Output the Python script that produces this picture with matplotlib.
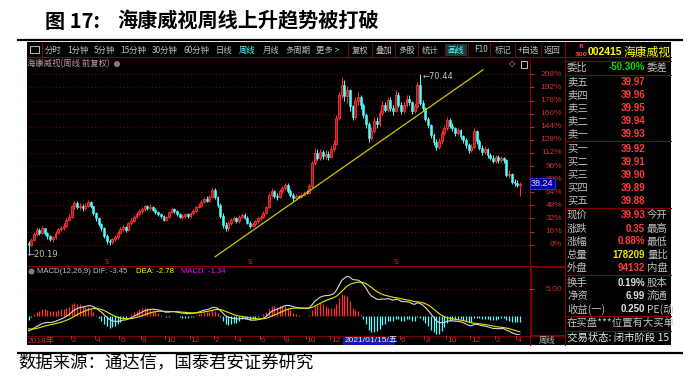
import numpy as np
import pandas as pd
import matplotlib
matplotlib.use("Agg")
import matplotlib.pyplot as plt
from matplotlib.patches import Rectangle, Circle
from matplotlib.transforms import blended_transform_factory

CJK = "Noto Sans CJK SC"
LAT = ["Liberation Sans", "Noto Sans CJK SC"]

# ---------------- data (weekly, forward-adjusted) ----------------
start_week = "2018-10-12"
opens = [
    23.4, 22.8, 24.3, 25.8, 26.9, 26.2, 27.4, 26.0, 25.2, 24.4,
    25.0, 26.2, 27.2, 27.6, 28.2, 29.8, 30.6, 33.6, 34.4, 33.4,
    33.8, 33.0, 33.8, 34.8, 33.6, 31.6, 30.2, 28.6, 27.4, 25.4,
    23.8, 23.6, 24.4, 25.0, 26.2, 27.2, 27.8, 27.0, 28.8, 29.6,
    30.6, 31.4, 32.2, 32.8, 33.6, 33.0, 33.4, 32.6, 32.0, 31.4,
    30.8, 29.8, 30.6, 32.0, 32.8, 32.2, 31.4, 30.6, 30.8, 31.4,
    30.8, 31.6, 32.4, 33.4, 33.8, 34.8, 35.6, 35.2, 36.2, 38.2,
    36.2, 34.0, 31.0, 28.4, 27.4, 28.8, 29.8, 30.2, 29.4, 30.6,
    31.2, 30.4, 29.0, 28.2, 28.6, 29.4, 30.2, 30.6, 31.8, 33.4,
    36.8, 37.8, 36.6, 36.2, 37.8, 38.6, 39.6, 38.0, 36.8, 35.8,
    36.4, 36.2, 36.8, 37.4, 37.2, 39.2, 45.6, 48.6, 47.2, 48.8,
    47.6, 48.2, 47.4, 49.6, 51.0, 58.2, 64.6, 67.6, 64.4, 66.0,
    61.6, 58.4, 63.0, 64.2, 61.8, 59.0, 56.6, 52.6, 54.6, 57.4,
    56.6, 59.6, 62.0, 60.6, 63.2, 61.0, 60.2, 64.8, 62.0, 60.2,
    61.8, 63.6, 62.6, 60.2, 61.6, 67.4, 62.4, 61.0, 58.0, 56.2,
    53.4, 51.6, 50.2, 51.8, 54.2, 55.6, 57.6, 56.0, 55.4, 54.0,
    54.8, 53.2, 52.0, 50.6, 49.4, 50.2, 54.6, 51.8, 50.0, 48.8,
    49.6, 48.0, 47.2, 46.2, 47.4, 46.6, 47.0, 46.4, 42.2, 42.6,
    40.4, 40.2, 39.6]
closes = [
    22.8, 24.3, 25.8, 26.9, 26.2, 27.4, 26.0, 25.2, 24.4, 25.0,
    26.2, 27.2, 27.6, 28.2, 29.8, 30.6, 33.6, 34.4, 33.4, 33.8,
    33.0, 33.8, 34.8, 33.6, 31.6, 30.2, 28.6, 27.4, 25.4, 23.8,
    23.6, 24.4, 25.0, 26.2, 27.2, 27.8, 27.0, 28.8, 29.6, 30.6,
    31.4, 32.2, 32.8, 33.6, 33.0, 33.4, 32.6, 32.0, 31.4, 30.8,
    29.8, 30.6, 32.0, 32.8, 32.2, 31.4, 30.6, 30.8, 31.4, 30.8,
    31.6, 32.4, 33.4, 33.8, 34.8, 35.6, 35.2, 36.2, 38.2, 36.2,
    34.0, 31.0, 28.4, 27.4, 28.8, 29.8, 30.2, 29.4, 30.6, 31.2,
    30.4, 29.0, 28.2, 28.6, 29.4, 30.2, 30.6, 31.8, 33.4, 36.8,
    37.8, 36.6, 36.2, 37.8, 38.6, 39.6, 38.0, 36.8, 35.8, 36.4,
    36.2, 36.8, 37.4, 37.2, 39.2, 45.6, 48.6, 47.2, 48.8, 47.6,
    48.2, 47.4, 49.6, 51.0, 58.2, 64.6, 67.6, 64.4, 66.0, 61.6,
    58.4, 63.0, 64.2, 61.8, 59.0, 56.6, 52.6, 54.6, 57.4, 56.6,
    59.6, 62.0, 60.6, 63.2, 61.0, 60.2, 64.8, 62.0, 60.2, 61.8,
    63.6, 62.6, 60.2, 61.6, 67.4, 62.4, 61.0, 58.0, 56.2, 53.4,
    51.6, 50.2, 51.8, 54.2, 55.6, 57.6, 56.0, 55.4, 54.0, 54.8,
    53.2, 52.0, 50.6, 49.4, 50.2, 54.6, 51.8, 50.0, 48.8, 49.6,
    48.0, 47.2, 46.2, 47.4, 46.6, 47.0, 46.4, 42.2, 42.6, 40.4,
    40.2, 39.6, 39.93]
highs = [
    24.0, 24.8, 26.4, 27.8, 27.4, 28.0, 27.6, 26.4, 25.6, 25.4,
    26.6, 27.6, 28.2, 28.8, 30.2, 31.4, 34.0, 35.2, 35.0, 34.6,
    34.2, 34.4, 35.4, 35.2, 33.8, 32.0, 30.6, 29.0, 27.8, 25.8,
    24.6, 24.8, 25.6, 26.6, 27.8, 28.4, 28.2, 29.2, 30.4, 31.2,
    32.0, 32.8, 33.4, 34.0, 34.0, 34.2, 33.8, 33.0, 32.4, 31.8,
    31.2, 31.0, 32.4, 33.4, 33.2, 32.6, 31.8, 31.4, 31.8, 31.8,
    32.0, 32.8, 33.8, 34.4, 35.4, 36.2, 36.4, 36.8, 38.6, 38.8,
    36.6, 34.4, 31.6, 29.2, 29.4, 30.4, 30.8, 30.6, 31.2, 31.8,
    31.6, 30.8, 29.4, 29.2, 29.8, 30.6, 31.2, 32.2, 33.8, 37.4,
    38.6, 38.2, 37.2, 38.4, 39.4, 40.2, 40.0, 38.4, 37.2, 37.0,
    36.8, 37.4, 38.0, 38.2, 39.8, 46.2, 49.8, 49.6, 49.6, 49.4,
    49.2, 49.0, 50.4, 52.0, 59.0, 65.6, 69.6, 68.8, 67.2, 66.4,
    62.0, 64.0, 65.4, 64.6, 62.4, 59.6, 57.2, 55.8, 58.4, 58.6,
    60.6, 63.0, 62.8, 64.2, 64.0, 62.0, 66.2, 65.4, 62.6, 62.6,
    64.6, 64.6, 63.0, 62.4, 68.4, 70.44, 63.4, 61.4, 58.6, 56.6,
    54.2, 52.4, 52.6, 55.0, 56.4, 58.6, 58.2, 56.8, 55.8, 55.6,
    55.2, 53.6, 52.6, 51.2, 51.0, 55.4, 55.0, 52.4, 50.6, 50.4,
    50.0, 48.6, 47.8, 48.0, 47.8, 47.6, 47.4, 46.8, 43.6, 43.0,
    41.2, 40.8, 40.4]
lows = [
    20.19, 22.4, 24.0, 25.4, 25.6, 25.8, 25.6, 24.6, 23.8, 23.6,
    24.6, 25.8, 26.6, 27.0, 27.8, 29.4, 30.2, 32.8, 32.8, 32.6,
    32.4, 32.6, 33.4, 33.0, 31.2, 29.6, 28.0, 26.8, 24.8, 23.2,
    22.8, 23.0, 24.0, 24.6, 25.8, 26.8, 26.4, 26.8, 28.4, 29.2,
    30.2, 31.0, 31.8, 32.4, 32.6, 32.6, 32.2, 31.4, 30.8, 30.2,
    29.4, 29.4, 30.2, 31.6, 31.8, 31.0, 30.2, 30.0, 30.4, 30.4,
    30.4, 31.2, 32.0, 33.0, 33.4, 34.4, 34.8, 34.8, 35.8, 35.6,
    33.4, 30.4, 27.6, 26.6, 26.8, 28.4, 29.4, 28.8, 29.0, 30.2,
    30.0, 28.6, 27.6, 27.8, 28.2, 29.0, 29.8, 30.2, 31.4, 33.0,
    36.2, 36.0, 35.4, 35.8, 37.2, 38.2, 37.4, 36.2, 35.2, 35.4,
    35.8, 36.0, 36.4, 37.0, 37.4, 38.8, 45.0, 46.4, 46.6, 46.8,
    46.8, 46.6, 47.0, 49.0, 50.6, 57.6, 63.8, 63.0, 62.4, 60.2,
    57.6, 58.0, 62.0, 60.8, 58.2, 55.4, 51.6, 52.0, 54.0, 55.6,
    56.0, 59.0, 59.8, 60.0, 60.2, 59.0, 59.8, 61.2, 59.4, 59.6,
    61.2, 61.8, 59.4, 59.6, 61.0, 61.8, 60.2, 57.4, 55.4, 52.6,
    50.8, 49.4, 49.6, 51.4, 53.6, 55.0, 55.4, 54.6, 53.2, 53.4,
    52.4, 51.2, 49.8, 48.6, 48.8, 49.8, 51.0, 49.2, 48.0, 48.2,
    47.2, 46.4, 45.6, 45.8, 45.8, 46.0, 45.6, 41.8, 41.4, 39.8,
    39.4, 39.0, 36.6]

base_price = 22.87                      # 0% level of the right axis
pct_levels = [0, 16, 32, 48, 64, 80, 96, 112, 128, 144, 160, 176, 192, 208]
trend_pts_x = [69.1, 168.3]            # hand-drawn trend line (week index)
trend_pts_y = [19.5, 71.7]             # trend line (price)
exright_weeks = [29, 82, 136]
cursor_label = "2021/01/15/五"
cursor_week = 118
price_box_value, price_box_text = 39.93, "38.24"
macd_init = dict(ema12=25.0, ema26=27.9, dea=-2.4)
macd_tick = 5.00

N = len(closes)
dates = pd.date_range(start_week, periods=N, freq="W-FRI")
x = np.arange(N)
o = np.array(opens); c = np.array(closes)
hi = np.array(highs); lo = np.array(lows)

# MACD (12,26,9) as computed by the terminal
def macd_calc(vals):
    e12, e26, d_ = macd_init["ema12"], macd_init["ema26"], macd_init["dea"]
    difs, deas = [], []
    for v in vals:
        e12 = (2 * v + 11 * e12) / 13
        e26 = (2 * v + 25 * e26) / 27
        d = e12 - e26
        d_ = (2 * d + 8 * d_) / 10
        difs.append(d); deas.append(d_)
    difs = np.array(difs); deas = np.array(deas)
    return difs, deas, 2 * (difs - deas)
dif, dea, hist = macd_calc(c)

# ---------------- figure ----------------
W, H = 699, 379
fig = plt.figure(figsize=(W / 100, H / 100), dpi=100)
fig.patch.set_facecolor("white")

def px_axes(x0, y0, x1, y1):
    return fig.add_axes([x0 / W, 1 - y1 / H, (x1 - x0) / W, (y1 - y0) / H])

bg = px_axes(0, 0, W, H)
bg.set_xlim(0, W); bg.set_ylim(H, 0); bg.axis("off")

DR = "#800000"
GREY = "#c0c0c0"
RED = "#ff3c3c"
CYAN = "#54fcfc"
YEL = "#ffff00"
UPRED = "#ff3232"

bg.add_patch(Rectangle((27, 42), 644, 303, fc="black", ec="none"))
bg.plot([17, 683], [39.5, 39.5], color="black", lw=1.6, solid_capstyle="butt")
bg.plot([17, 683], [352.5, 352.5], color="black", lw=1.6, solid_capstyle="butt")

bg.text(45, 21, "图 17:", fontsize=14.5, fontweight="bold", family=CJK, va="center", ha="left")
bg.text(117, 21, "海康威视周线上升趋势被打破", fontsize=14.5, fontweight="bold", family=CJK,
        va="center", ha="left")
bg.text(18, 362, "数据来源：通达信，国泰君安证券研究", fontsize=12.5, family=CJK, va="center", ha="left")

# toolbar
bg.plot([27, 671], [57, 57], color=DR, lw=0.8)
for sx in [42, 348, 372, 395, 418, 445, 468, 490, 515, 541, 565]:
    bg.plot([sx, sx], [43, 56], color=DR, lw=0.8)
bg.add_patch(Rectangle((446, 43.5), 21, 12.5, fc="#1c3a3a", ec="none"))
bg.add_patch(Rectangle((30, 46), 9, 7, fc="none", ec=GREY, lw=0.7))
tool_items = [("分时", 45, GREY), ("1分钟", 67, GREY), ("5分钟", 94, GREY), ("15分钟", 120, GREY),
              ("30分钟", 152, GREY), ("60分钟", 183, GREY), ("日线", 216, GREY), ("周线", 239, CYAN),
              ("月线", 263, GREY), ("多周期", 285, GREY), ("更多 >", 316, GREY), ("复权", 352, GREY),
              ("叠加", 376, GREY), ("多股", 398, GREY), ("统计", 422, GREY), ("画线", 447, CYAN),
              ("F10", 474, GREY), ("标记", 495, GREY), ("+自选", 518, GREY), ("返回", 544, GREY)]
for t, tx, col in tool_items:
    bg.text(tx, 50, t, fontsize=6, family=CJK, color=col, va="center", ha="left")

bg.text(27, 64, "海康威视(周线 前复权)", fontsize=6, family=CJK, color="#a8a8a8", va="center", ha="left")
bg.add_patch(Circle((117, 64), 3, fc="#808080", ec="none"))
bg.text(512, 64, "◇", fontsize=6, color=GREY, va="center", ha="center", family="DejaVu Sans")
bg.add_patch(Rectangle((521, 60.5), 6, 7, fc="none", ec=GREY, lw=0.7))

# axis column + panel frames
bg.plot([530, 530], [57, 345], color=DR, lw=0.8)
bg.plot([27, 565], [265.5, 265.5], color=DR, lw=0.8)
bg.plot([27, 565], [335.5, 335.5], color=DR, lw=0.8)
bg.add_patch(Rectangle((530.5, 266.5), 34, 68, fc="none", ec=DR, lw=0.8))
bg.plot([565, 565], [42, 345], color=DR, lw=0.8)
for yy in [61, 75, 141, 208, 274.5, 315.5, 330.5]:
    bg.plot([565, 671], [yy, yy], color=DR, lw=0.8)

# right quote panel
bg.text(581, 46, "R", fontsize=4.5, color=RED, family="DejaVu Sans", fontweight="bold", va="center", ha="center")
bg.text(581, 55, "300", fontsize=4.5, color=RED, family="DejaVu Sans", fontweight="bold", va="center", ha="center")
bg.text(588, 52, "002415", fontsize=7.5, color=YEL, family="Liberation Sans", fontweight="bold", va="center", ha="left")
bg.text(624, 52, "海康威视", fontsize=8.5, color=YEL, family=CJK, va="center", ha="left")

def row(y, label, val, vcol, right=None):
    bg.text(567, y, label, fontsize=7.5, family=CJK, color=GREY, va="center", ha="left")
    if val:
        bg.text(645, y, val, fontsize=7, family="Liberation Sans", fontweight="bold", color=vcol,
                va="center", ha="right")
    if right:
        bg.text(647, y, right, fontsize=7.5, family=CJK, color=GREY, va="center", ha="left")

row(67.5, "委比", "-50.30%", "#00e000", "委差")
sell = ["39.97", "39.96", "39.95", "39.94", "39.93"]
for k, (lab, v) in enumerate(zip(["卖五", "卖四", "卖三", "卖二", "卖一"], sell)):
    row(82 + 13.1 * k, lab, v, RED)
buy = ["39.92", "39.91", "39.90", "39.89", "39.88"]
for k, (lab, v) in enumerate(zip(["买一", "买二", "买三", "买四", "买五"], buy)):
    row(149 + 13.1 * k, lab, v, RED)
row(215, "现价", "39.93", RED, "今开")
row(228.5, "涨跌", "0.35", RED, "最高")
row(241.5, "涨幅", "0.88%", RED, "最低")
row(255, "总量", "178209", "#e6e600", "量比")
row(268, "外盘", "94132", RED, "内盘")
row(283, "换手", "0.19%", "#e0e0e0", "股本")
row(296, "净资", "6.99", "#e0e0e0", "流通")
row(309, "收益(一)", "0.250", "#e0e0e0", "PE(动")
bg.text(567, 323, "在买盘***位置有大买单", fontsize=7.5, family=CJK, color=GREY, va="center", ha="left")
bg.text(567, 337.5, "交易状态: 闭市阶段 15", fontsize=7.5, family=CJK, color="#e8e8e8", va="center", ha="left")

# MACD title
bg.add_patch(Circle((31.5, 271.5), 3, fc="#808080", ec="none"))
bg.text(37, 271.5, "MACD(12,26,9) DIF: -3.45", fontsize=5.6, family="Liberation Sans", color=GREY, va="center")
bg.text(136, 271.5, "DEA: -2.78", fontsize=5.6, family="Liberation Sans", color=YEL, va="center")
bg.text(181, 271.5, "MACD: -1.34", fontsize=5.6, family="Liberation Sans", color="#ff00ff", va="center")
bg.text(547, 340.5, "周线", fontsize=6, family=CJK, color=GREY, va="center", ha="center")

# ---------------- price axes ----------------
XL = (-0.556, 185.74)
pa = px_axes(27, 58, 530, 265)
pa.set_facecolor("none")
pa.set_xlim(*XL)
pa.set_ylim(17.20, 75.01)
for s in pa.spines.values():
    s.set_visible(False)
pa.set_xticks([])
levels = [base_price * (1 + p / 100) for p in pct_levels]
pa.set_yticks(levels)
pa.yaxis.tick_right()
pa.tick_params(axis="y", colors="#c03030", length=3, width=0.7, labelright=False, labelleft=False)
for lv in levels:
    pa.axhline(lv, color="#7a0000", lw=0.8, ls=(0, (1, 2.2)), zorder=0)
tr = blended_transform_factory(pa.transAxes, pa.transData)
for p, lv in zip(pct_levels, levels):
    pa.text(1 + 32 / 503, lv, f"{p}%", transform=tr, ha="right", va="center", fontsize=6,
            family="Liberation Sans", color="#d03030", clip_on=False, zorder=2)

up = c >= o
body_lo = np.minimum(o, c)
body_h = np.maximum(np.abs(c - o), 0.12)
pa.vlines(x[up], lo[up], hi[up], colors=UPRED, lw=0.7, zorder=2)
pa.vlines(x[~up], lo[~up], hi[~up], colors=CYAN, lw=0.7, zorder=2)
pa.bar(x[up], body_h[up], bottom=body_lo[up], width=0.72, facecolor="#a01818", edgecolor=UPRED,
       linewidth=0.6, zorder=3)
pa.bar(x[~up], body_h[~up], bottom=body_lo[~up], width=0.72, facecolor=CYAN, edgecolor=CYAN,
       linewidth=0.4, zorder=3)

pa.plot(trend_pts_x, trend_pts_y, color="#c8c800", lw=0.9, zorder=4)
i_lo = int(np.argmin(lo)); i_hi = int(np.argmax(hi))
pa.text(i_lo - 0.5, lo[i_lo], "←" + f"{lo[i_lo]:.2f}", fontsize=6, color=GREY, va="center", ha="left",
        family="DejaVu Sans")
pa.text(i_hi + 0.8, hi[i_hi] - 0.6, "←" + f"{hi[i_hi]:.2f}", fontsize=6, color=GREY, va="center",
        ha="left", family="DejaVu Sans")
for w in exright_weeks:
    pa.text(w, 18.0, "S", fontsize=5, color="#ff2020", ha="center", va="center", family="DejaVu Sans")

# current price box on axis (drawn over the 80% label, as in the terminal)
pa.text(1 + 1 / 503, price_box_value, price_box_text, transform=tr, ha="left", va="center", fontsize=6.5,
        family="Liberation Sans", color="#e0e0ff", clip_on=False, zorder=6,
        bbox=dict(boxstyle="square,pad=0.15", fc="#0000a0", ec="#4040ff", lw=0.5))

# ---------------- MACD axes ----------------
ma = px_axes(27, 266, 530, 335)
ma.set_facecolor("none")
ma.set_xlim(*XL)
ma.set_ylim(-3.66, 9.41)
ma.axis("off")
ma.axhline(macd_tick, color="#7a0000", lw=0.8, ls=(0, (1, 2.2)), zorder=0)
hcol = np.where(hist >= 0, UPRED, CYAN)
ma.vlines(x, 0, hist, colors=hcol, lw=0.9)
ma.plot(x, dif, color="#d8d8d8", lw=0.8)
ma.plot(x, dea, color="#e6e600", lw=0.8)
trm = blended_transform_factory(ma.transAxes, ma.transData)
ma.text(1 + 32 / 503, macd_tick, f"{macd_tick:.2f}", transform=trm, ha="right", va="center", fontsize=6,
        family="Liberation Sans", color="#d03030", clip_on=False)
ma.plot([1, 1 + 4 / 503], [macd_tick, macd_tick], transform=trm, color="#c03030", lw=0.7, clip_on=False)

# ---------------- date axis ----------------
def xpix(i):
    return 27 + (i - XL[0]) / (XL[1] - XL[0]) * 503

bg.text(28, 341, "2018年", fontsize=6, family=LAT, color="#d03030", va="center", ha="left")
for i in range(1, N):
    if dates[i].month != dates[i - 1].month and dates[i].month % 2 == 0:
        if i < 12 or (cursor_week - 2) <= i <= cursor_week + 18:
            continue
        xp = xpix(i)
        bg.plot([xp - 1, xp - 1], [336, 339], color="#d03030", lw=0.6)
        bg.text(xp, 341, str(dates[i].month), fontsize=6, family=LAT, color="#d03030", va="center", ha="left")
cx = xpix(cursor_week) - 4
bg.add_patch(Rectangle((cx, 336.5), 52, 8.5, fc="#1a1aa0", ec="none"))
bg.text(cx + 1, 341, cursor_label, fontsize=6, family=LAT, color="#e8e8ff", va="center", ha="left")

fig.savefig("out.png", dpi=100, facecolor="white")
